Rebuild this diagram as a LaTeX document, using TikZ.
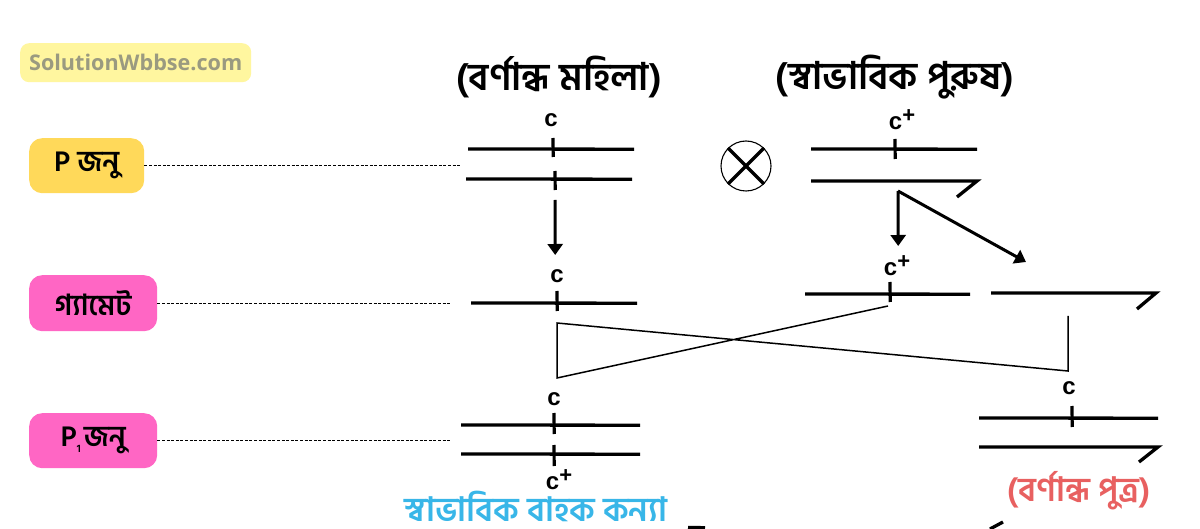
\documentclass[tikz,border=0pt]{standalone}
\usepackage{fontspec}
\setmainfont{Open Sans}
\newfontfamily\bn[Script=Bengali]{Hind Siliguri}
\newfontfamily\lat{Liberation Sans}
\newfontfamily\wmf{Open Sans}
\usetikzlibrary{arrows.meta}
\definecolor{SolYellow}{HTML}{FFF69F}
\definecolor{SolGrey}{HTML}{9A9A80}
\definecolor{PYellow}{HTML}{FFD95A}
\definecolor{GPink}{HTML}{FF66C4}
\definecolor{CarrierBlue}{HTML}{38B6E8}
\definecolor{SonRed}{HTML}{E86060}
\newcommand{\cplus}{c\raisebox{7pt}{\fontsize{22}{22}\selectfont +}}
\tikzset{
  x=1pt,y=-1pt,
  chromo/.style={line width=3.3pt,black,line join=miter},
  tick/.style={line width=3.2pt,black},
  link/.style={line width=1.5pt,black,line join=miter},
  guide/.style={line width=1.2pt,black,dash pattern=on 3pt off 1.6pt},
  arrowline/.style={line width=3pt,black,-{Triangle[length=11pt,width=15pt]}},
  title/.style={font=\bn\bfseries\fontsize{38}{40}\selectfont,text=black,inner sep=0pt},
  allele/.style={font=\lat\bfseries\fontsize{24}{24}\selectfont,text=black,inner sep=0pt},
  genbox/.style={rounded corners=13pt,font=\bn\bfseries\fontsize{29}{31}\selectfont,text=black,inner sep=0pt,anchor=north west},
  colourlabel/.style={font=\bn\bfseries\fontsize{33.5}{35}\selectfont,inner sep=0pt},
}
\begin{document}
\begin{tikzpicture}
\useasboundingbox (0,0) rectangle (1200,529);
\fill[white] (0,0) rectangle (1200,529);

% watermark
\node[rounded corners=9pt,fill=SolYellow,minimum width=231pt,minimum height=39pt,anchor=north west,inner sep=0pt,font=\wmf\bfseries\fontsize{21.6}{24}\selectfont,text=SolGrey] (wm) at (20,43) {SolutionWbbse.com};

% generation boxes
\node[genbox,fill=PYellow,minimum width=115pt,minimum height=55pt] (pbox) at (29,138) {P জনু};
\node[genbox,fill=GPink,minimum width=128pt,minimum height=56pt] (gbox) at (29,275) {গ্যামেট};
\node[genbox,fill=GPink,minimum width=128pt,minimum height=55pt] (fbox) at (29,413) {P\raisebox{-6pt}{\fontsize{11}{11}\selectfont 1}\kern3pt জনু};

% titles
\node[title] (t1) at (559,77) {(বর্ণান্ধ মহিলা)};
\node[title] (t2) at (895,77) {(স্বাভাবিক পুরুষ)};

% guide ends
\coordinate (pg) at (461,165);
\coordinate (gg) at (450,303);
\coordinate (fg) at (450,440);
\draw[guide] (pbox.east) -- (pbox.east -| pg);
\draw[guide] (gbox.east) -- (gbox.east -| gg);
\draw[guide] (fbox.east) -- (fbox.east -| fg);

% P female
\coordinate (a1) at (468,149); \coordinate (a2) at (634,149.2);
\coordinate (a3) at (466,179); \coordinate (a4) at (632,179.2);
\draw[chromo] (a1) -- (a2);
\draw[chromo] (a3) -- (a4);
\coordinate (at1) at (553,138); \coordinate (at2) at (553.2,157);
\coordinate (at3) at (555,171); \coordinate (at4) at (555.2,190);
\draw[tick] (at1) -- (at2);
\draw[tick] (at3) -- (at4);
\node[allele] (ca) at (551,120) {c};
\coordinate (af) at (555,200); \coordinate (at) at (555.2,255);
\draw[arrowline] (af) -- (at);

% cross
\node[circle,draw=black,line width=1.1pt,minimum size=50pt,inner sep=0pt] (cross) at (746,166) {};
\draw[line width=3.4pt] (cross.45) -- (cross.225);
\draw[line width=3.4pt] (cross.135) -- (cross.315);

% P male
\coordinate (b1) at (811,149); \coordinate (b2) at (977,149.2);
\coordinate (b3) at (811,181); \coordinate (b4) at (977,181); \coordinate (b5) at (957,197);
\draw[chromo] (b1) -- (b2);
\draw[chromo] (b3) -- (b4) -- (b5);
\coordinate (bt1) at (895,139); \coordinate (bt2) at (895.2,159);
\draw[tick] (bt1) -- (bt2);
\node[allele] (cb) at (902,120) {\cplus};
\coordinate (br) at (898,191);
\coordinate (br2) at (898.2,246);
\coordinate (br3) at (1026,262);
\draw[arrowline] (br) -- (br2);
\draw[arrowline] (br) -- (br3);

% gametes
\coordinate (g1) at (471,303); \coordinate (g2) at (637,303.2);
\draw[chromo] (g1) -- (g2);
\coordinate (gt1) at (557,291); \coordinate (gt2) at (557.2,311);
\draw[tick] (gt1) -- (gt2);
\node[allele] (cg) at (557,276) {c};
\coordinate (h1) at (805,294); \coordinate (h2) at (970,294.2);
\draw[chromo] (h1) -- (h2);
\coordinate (ht1) at (890,282); \coordinate (ht2) at (890.2,302);
\draw[tick] (ht1) -- (ht2);
\node[allele] (ch) at (897,266) {\cplus};
\coordinate (k1) at (991,293); \coordinate (k2) at (1156,293); \coordinate (k3) at (1137,309);
\draw[chromo] (k1) -- (k2) -- (k3);

% crossing links
\coordinate (l1) at (888,306); \coordinate (l2) at (557,378); \coordinate (l3) at (557,323);
\coordinate (l4) at (1068,371); \coordinate (l5) at (1068,316);
\draw[link] (l1) -- (l2) -- (l3) -- (l4) -- (l5);

% P1 left
\coordinate (m1) at (461,425); \coordinate (m2) at (640,425.2);
\coordinate (m3) at (461,454); \coordinate (m4) at (640,454.2);
\draw[chromo] (m1) -- (m2);
\draw[chromo] (m3) -- (m4);
\coordinate (mt1) at (554,413); \coordinate (mt2) at (554.2,434);
\coordinate (mt3) at (554,445); \coordinate (mt4) at (554.2,466);
\draw[tick] (mt1) -- (mt2);
\draw[tick] (mt3) -- (mt4);
\node[allele] (cm) at (554,399) {c};
\node[allele] (cn) at (559,480) {\cplus};
\node[colourlabel,text=CarrierBlue] (t3) at (536,506) {স্বাভাবিক বাহক কন্যা};

% P1 right
\coordinate (n1) at (979,418); \coordinate (n2) at (1158,418.2);
\coordinate (n3) at (979,447); \coordinate (n4) at (1158,447); \coordinate (n5) at (1139,462);
\draw[chromo] (n1) -- (n2);
\draw[chromo] (n3) -- (n4) -- (n5);
\coordinate (nt1) at (1072,406); \coordinate (nt2) at (1072.2,427);
\draw[tick] (nt1) -- (nt2);
\node[allele] (cr) at (1069,388) {c};
\node[colourlabel,text=SonRed] (t4) at (1079,491) {(বর্ণান্ধ পুত্র)};

% marks cut off at the lower edge
\coordinate (e1) at (688,527.5); \coordinate (e2) at (705,527.7);
\coordinate (e3) at (990,529); \coordinate (e4) at (1003,522);
\draw[chromo] (e1) -- (e2);
\draw[chromo] (e3) -- (e4);
\end{tikzpicture}
\end{document}
